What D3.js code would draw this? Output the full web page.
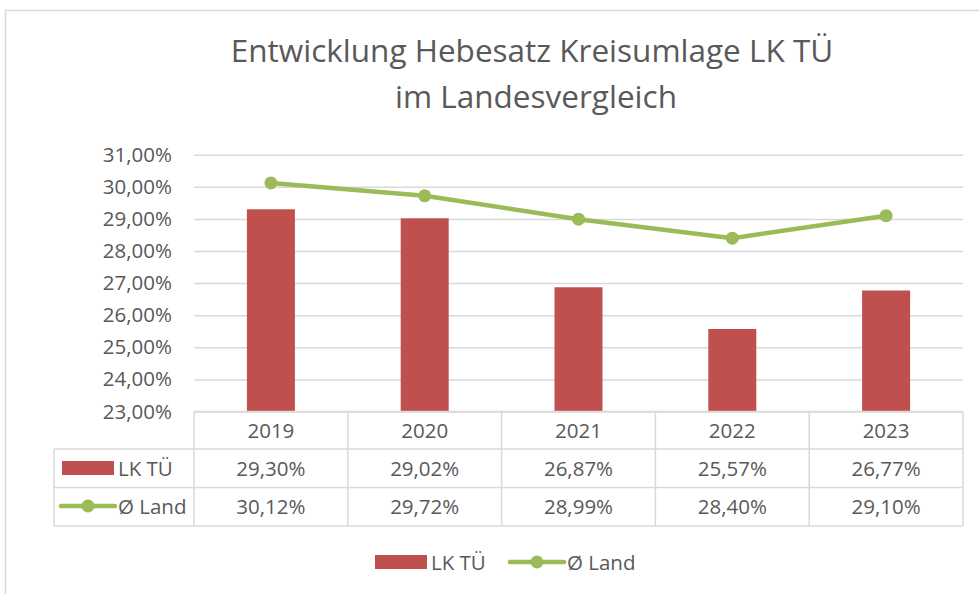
<!DOCTYPE html>
<html>
<head>
<meta charset="utf-8">
<script src="https://cdn.jsdelivr.net/npm/d3@7"></script>
<style>
  body { margin: 0; background: #fff; }
  text { font-family: "Open Sans", "Noto Sans", sans-serif; fill: #595959; }
</style>
</head>
<body>
<div id="chart"></div>
<script>
// data
var years = ["2019", "2020", "2021", "2022", "2023"];
var lkValues = [29.30, 29.02, 26.87, 25.57, 26.77];
var landValues = [30.12, 29.72, 28.99, 28.40, 29.10];
var yTicks = [23, 24, 25, 26, 27, 28, 29, 30, 31];
var seriesNames = ["LK TÜ", "Ø Land"];

var barColor = "#C0504D";
var lineColor = "#9BBB59";
var gridColor = "#D9D9D9";
var fs = 20.5;

var svg = d3.select("#chart").append("svg").attr("width", 979).attr("height", 594);

// chart frame
svg.append("rect")
    .attr("x", 5.5).attr("y", 10.5)
    .attr("width", 1000).attr("height", 1000)
    .attr("fill", "none").attr("stroke", gridColor).attr("stroke-width", 1.5);

// title
svg.append("text").attr("x", 532).attr("y", 62).attr("text-anchor", "middle")
    .attr("font-size", 31.5).text("Entwicklung Hebesatz Kreisumlage LK TÜ");
svg.append("text").attr("x", 536).attr("y", 108).attr("text-anchor", "middle")
    .attr("font-size", 31.5).text("im Landesvergleich");

// scales
var x = d3.scaleBand().domain(years).range([194, 963]);
var y = d3.scaleLinear().domain([23, 31]).range([411.5, 154.7]);

function fmt(v) {
    return d3.format(".2f")(v).replace(".", ",") + "%";
}

// grid + y labels
var yAxis = svg.append("g").attr("class", "y axis")
    .attr("transform", "translate(194,0)")
    .call(d3.axisLeft(y).tickValues(yTicks).tickSize(-769).tickPadding(22).tickFormat(fmt));
yAxis.select(".domain").remove();
yAxis.selectAll(".tick line").attr("stroke", gridColor).attr("stroke-width", 1.5);
yAxis.selectAll(".tick text").attr("font-size", fs).attr("fill", "#595959")
    .style("font-family", "'Open Sans', sans-serif");

// bars
var barW = 48;
svg.selectAll(".bar").data(lkValues).enter().append("rect")
    .attr("class", "bar")
    .attr("x", function (d, i) { return x(years[i]) + x.bandwidth() / 2 - barW / 2; })
    .attr("y", function (d) { return y(d); })
    .attr("width", barW)
    .attr("height", function (d) { return y(23) - y(d); })
    .attr("fill", barColor);

// line
var line = d3.line()
    .x(function (d, i) { return x(years[i]) + x.bandwidth() / 2; })
    .y(function (d) { return y(d); });
svg.append("path").datum(landValues)
    .attr("d", line).attr("fill", "none")
    .attr("stroke", lineColor).attr("stroke-width", 4.5).attr("stroke-linejoin", "round");
svg.selectAll(".dot").data(landValues).enter().append("circle")
    .attr("class", "dot")
    .attr("cx", function (d, i) { return x(years[i]) + x.bandwidth() / 2; })
    .attr("cy", function (d) { return y(d); })
    .attr("r", 6.5).attr("fill", lineColor);

// data table
var rowY = [411.5, 449, 487.5, 526];
var table = svg.append("g").attr("stroke", gridColor).attr("stroke-width", 1.5);
table.append("line").attr("x1", 194).attr("x2", 963).attr("y1", rowY[0]).attr("y2", rowY[0]);
[1, 2, 3].forEach(function (r) {
    table.append("line").attr("x1", 54).attr("x2", 963).attr("y1", rowY[r]).attr("y2", rowY[r]);
});
table.append("line").attr("x1", 54).attr("x2", 54).attr("y1", rowY[1]).attr("y2", rowY[3]);
years.forEach(function (yr) {
    table.append("line").attr("x1", x(yr)).attr("x2", x(yr)).attr("y1", rowY[0]).attr("y2", rowY[3]);
});
table.append("line").attr("x1", 963).attr("x2", 963).attr("y1", rowY[0]).attr("y2", rowY[3]);

years.forEach(function (yr, i) {
    var cx = x(yr) + x.bandwidth() / 2;
    svg.append("text").attr("x", cx).attr("y", 438).attr("text-anchor", "middle")
        .attr("font-size", fs).text(yr);
    svg.append("text").attr("x", cx).attr("y", 476).attr("text-anchor", "middle")
        .attr("font-size", fs).text(fmt(lkValues[i]));
    svg.append("text").attr("x", cx).attr("y", 514).attr("text-anchor", "middle")
        .attr("font-size", fs).text(fmt(landValues[i]));
});

// legend keys in table
svg.append("rect").attr("x", 62).attr("y", 461).attr("width", 52).attr("height", 14).attr("fill", barColor);
svg.append("text").attr("x", 118).attr("y", 476).attr("font-size", fs).text(seriesNames[0]);
svg.append("line").attr("x1", 61).attr("x2", 115).attr("y1", 506).attr("y2", 506)
    .attr("stroke", lineColor).attr("stroke-width", 4.5).attr("stroke-linecap", "round");
svg.append("circle").attr("cx", 88).attr("cy", 506).attr("r", 6.5).attr("fill", lineColor);
svg.append("text").attr("x", 118).attr("y", 514).attr("font-size", fs).text(seriesNames[1]);

// bottom legend
svg.append("rect").attr("x", 375).attr("y", 555).attr("width", 52).attr("height", 14).attr("fill", barColor);
svg.append("text").attr("x", 431).attr("y", 570).attr("font-size", fs).text(seriesNames[0]);
svg.append("line").attr("x1", 510).attr("x2", 564).attr("y1", 562).attr("y2", 562)
    .attr("stroke", lineColor).attr("stroke-width", 4.5).attr("stroke-linecap", "round");
svg.append("circle").attr("cx", 537).attr("cy", 562).attr("r", 6.5).attr("fill", lineColor);
svg.append("text").attr("x", 567).attr("y", 570).attr("font-size", fs).text(seriesNames[1]);
</script>
</body>
</html>
